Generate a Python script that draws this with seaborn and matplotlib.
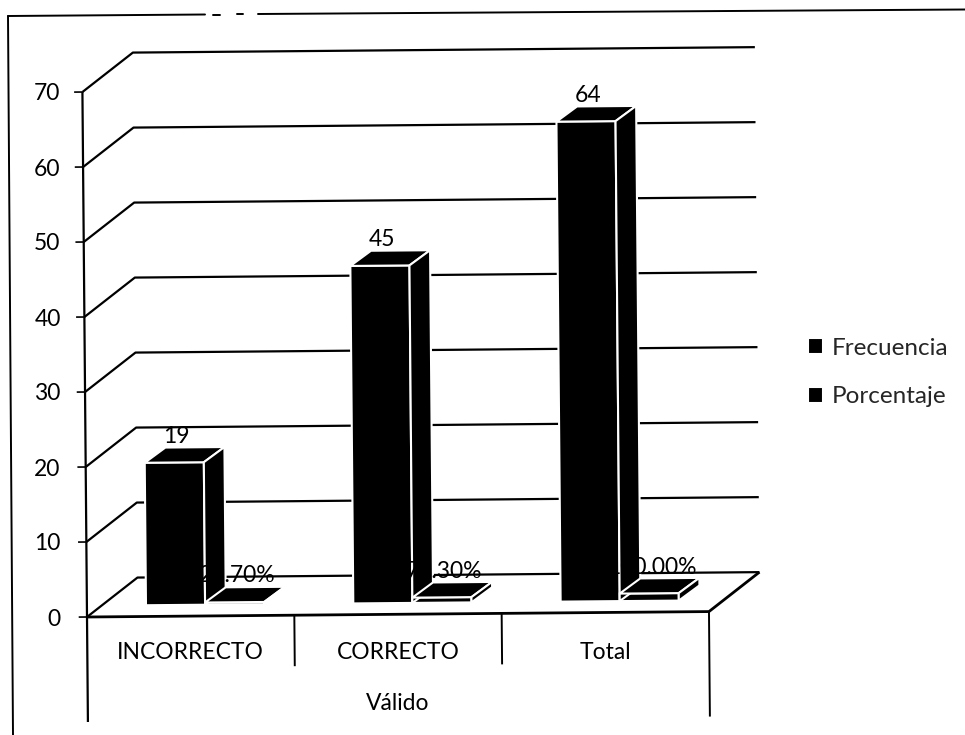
import matplotlib
matplotlib.use("Agg")
import matplotlib.pyplot as plt
from matplotlib.lines import Line2D
from matplotlib.patches import Polygon
from matplotlib.transforms import Affine2D
import pandas as pd
import seaborn as sns

categorias = ["INCORRECTO", "CORRECTO", "Total"]
frecuencia = [19, 45, 64]
porcentaje = [0.297, 0.703, 1.0]
etiq_frecuencia = ["19", "45", "64"]
etiq_porcentaje = ["29.70%", "70.30%", "100.00%"]
y_ticks = [0, 10, 20, 30, 40, 50, 60, 70]

df = pd.DataFrame({
    "categoria": categorias * 2,
    "valor": frecuencia + porcentaje,
    "serie": ["Frecuencia"] * 3 + ["Porcentaje"] * 3,
})

sns.set_theme(style="white")
plt.rcParams["font.family"] = ["Lato", "DejaVu Sans"]
plt.rcParams["font.size"] = 16.5

fig = plt.figure(figsize=(9.65, 7.35), dpi=100)
ax = fig.add_axes([87 / 965, 118 / 735, 622 / 965, 525 / 735])

sns.barplot(data=df, x="categoria", y="valor", hue="serie", order=categorias,
            palette=["black", "black"], width=0.57, gap=0, edgecolor="white",
            linewidth=1.5, saturation=1, ax=ax, zorder=3)

ax.set_xlim(-0.5, 2.5)
ax.set_ylim(0, 70)
ax.set_yticks(y_ticks)
ax.set_ylabel("")
ax.set_xlabel("Válido", fontsize=16.5, color="black", labelpad=21.5)
ax.tick_params(axis="y", length=0, pad=19, labelsize=16.5, labelcolor="black")
ax.tick_params(axis="x", length=0, pad=18, labelsize=16.5, labelcolor="black")
sns.despine(ax=ax, left=True, bottom=True)
ax.patch.set_alpha(0)

# the scan is slightly rotated
tilt = ax.transData + Affine2D().rotate_deg_around(87, 118, 0.5)

# depth of the 3d box and of the bars, in data units
wall_x, wall_y = 0.245, 5.2
inset_x, inset_y = 0.07, 1.5
deep_x, deep_y = 0.1, 2.0


def line(xs, ys, lw=1.6, z=1):
    ax.plot(xs, ys, color="black", lw=lw, transform=tilt, clip_on=False, zorder=z,
            solid_capstyle="butt")


for v in y_ticks:
    line([-0.5, -0.5 + wall_x, 2.5 + wall_x], [v, v + wall_y, v + wall_y])
    line([-0.54, -0.5], [v, v], lw=1.2)

line([-0.5, 2.5, 2.5 + wall_x], [0, 0, wall_y], lw=2.0)
line([-0.5, -0.5], [-14, 70], lw=1.6)
line([2.5, 2.5], [-14, 0], lw=1.4)
line([0.5, 0.5], [-6.8, 0], lw=1.4)
line([1.5, 1.5], [-6.8, 0], lw=1.4)

for cont, etiquetas, dx_txt in zip(ax.containers, [etiq_frecuencia, etiq_porcentaje], [0.01, 0.012]):
    for bar, txt in zip(cont.patches, etiquetas):
        x = bar.get_x() + inset_x
        w = bar.get_width()
        h = bar.get_height()
        bar.set_x(x)
        bar.set_y(inset_y)
        bar.set_transform(tilt)
        bar.set_clip_on(False)
        y0, y1 = inset_y, inset_y + h
        for pts in ([(x, y1), (x + deep_x, y1 + deep_y), (x + w + deep_x, y1 + deep_y), (x + w, y1)],
                    [(x + w, y0), (x + w + deep_x, y0 + deep_y), (x + w + deep_x, y1 + deep_y), (x + w, y1)]):
            ax.add_patch(Polygon(pts, closed=True, facecolor="black", edgecolor="white",
                                 linewidth=1.5, transform=tilt, clip_on=False, zorder=3))
        ax.text(x + w / 2 + dx_txt, y1 + 3.5, txt, ha="center", va="center", color="black",
                fontsize=16.5, transform=tilt, zorder=5)

sns.move_legend(ax, "center left", bbox_to_anchor=(808 / 965, (735 - 372.5) / 735),
                bbox_transform=fig.transFigure, frameon=False, title=None, fontsize=17.5,
                handlelength=0.6, handleheight=0.6, handletextpad=0.37, labelspacing=1.15,
                borderpad=0, borderaxespad=0)

# scanned page frame
def frame(xs, ys):
    fig.add_artist(Line2D([a / 965 for a in xs], [1 - b / 735 for b in ys], color="black", lw=1.4))


frame([8, 13], [16, 735])
frame([8, 205], [16, 14.5])
frame([213, 220], [14.5, 14.5])
frame([237, 243], [14.3, 14.3])
frame([258, 965], [14, 9.5])

fig.savefig("out.png", dpi=100)
